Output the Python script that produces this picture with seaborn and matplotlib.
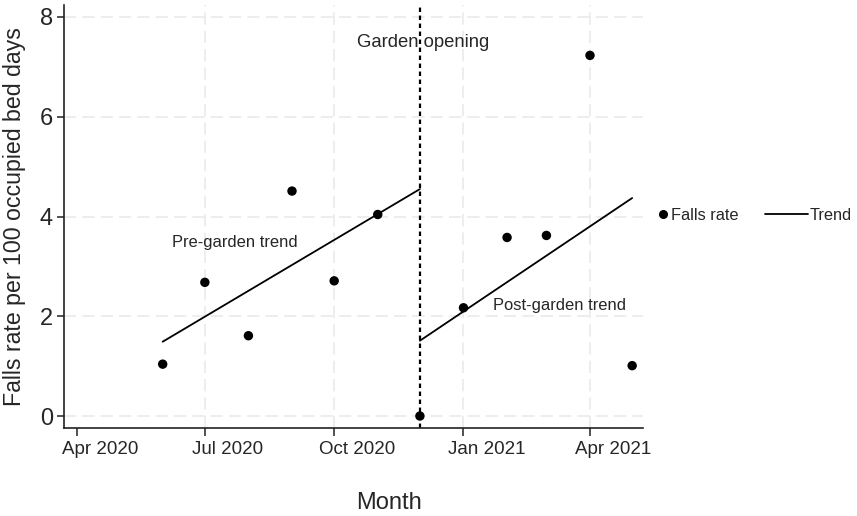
import seaborn as sns
import matplotlib.pyplot as plt
import matplotlib.dates as mdates
from matplotlib.lines import Line2D
from matplotlib.transforms import ScaledTranslation
import pandas as pd

# -------------------
# Data
# -------------------
months = ["2020-06-01", "2020-07-01", "2020-08-01", "2020-09-01", "2020-10-01", "2020-11-01",
          "2020-12-01", "2021-01-01", "2021-02-01", "2021-03-01", "2021-04-01", "2021-05-01"]
falls_rate = [1.04, 2.68, 1.61, 4.51, 2.71, 4.04, 0.00, 2.17, 3.58, 3.62, 7.23, 1.01]

pre_months = ["2020-06-01", "2020-12-01"]
pre_trend = [1.49, 4.55]
post_months = ["2020-12-01", "2021-05-01"]
post_trend = [1.51, 4.37]

garden_opening = "2020-12-01"
x_ticks = ["2020-04-01", "2020-07-01", "2020-10-01", "2021-01-01", "2021-04-01"]
y_ticks = [0, 2, 4, 6, 8]

df = pd.DataFrame({"Month": pd.to_datetime(months), "Rate": falls_rate})
pre_df = pd.DataFrame({"Month": pd.to_datetime(pre_months), "Trend": pre_trend})
post_df = pd.DataFrame({"Month": pd.to_datetime(post_months), "Trend": post_trend})

# -------------------
# Style
# -------------------
sns.set_style("white")
plt.rcParams["font.family"] = ["Liberation Sans", "DejaVu Sans"]

W, H = 857, 516
fig = plt.figure(figsize=(W / 100, H / 100), dpi=100)
ax = fig.add_axes([64 / W, 1 - 428 / H, 579 / W, 423 / H])

sns.lineplot(data=pre_df, x="Month", y="Trend", color="black", lw=1.3, ax=ax)
sns.lineplot(data=post_df, x="Month", y="Trend", color="black", lw=1.3, ax=ax)
sns.scatterplot(data=df, x="Month", y="Rate", color="black", s=46, edgecolor="none",
                ax=ax, zorder=3)
ax.axvline(pd.Timestamp(garden_opening), color="black", lw=1.6, ls=(0, (2, 1.6)), zorder=2)

# annotations
ax.text(pd.Timestamp("2020-12-03"), 7.39, "Garden opening", ha="center", va="baseline",
        fontsize=13.3)
ax.text(pd.Timestamp("2020-07-22"), 3.39, "Pre-garden trend", ha="center", va="baseline",
        fontsize=11.9)
ax.text(pd.Timestamp("2021-03-10"), 2.13, "Post-garden trend", ha="center", va="baseline",
        fontsize=11.9)

# axes
ax.set_xlim(pd.Timestamp("2020-03-22 19:00"), pd.Timestamp("2021-05-08 17:00"))
ax.set_ylim(-0.24, 8.24)
ax.set_xticks(pd.to_datetime(x_ticks))
ax.xaxis.set_major_formatter(mdates.DateFormatter("%b %Y"))
ax.set_yticks(y_ticks)

ax.grid(True, color="#e8e8e8", lw=1.1, ls=(0, (8, 4)), zorder=0)
ax.set_axisbelow(True)
ax.xaxis.get_gridlines()[0].set_visible(False)

for side in ["top", "right"]:
    ax.spines[side].set_visible(False)
for side in ["left", "bottom"]:
    ax.spines[side].set_color("#222222")
    ax.spines[side].set_linewidth(1.2)

ax.tick_params(axis="x", direction="out", length=6, width=1.1, color="#222222",
               pad=3, labelsize=13.5, bottom=True)
ax.tick_params(axis="y", direction="out", length=5, width=1.1, color="#222222",
               pad=3, labelsize=17, left=True)

# x tick labels sit a bit to the right of their ticks in the reference
for lbl in ax.get_xticklabels():
    lbl.set_transform(lbl.get_transform() + ScaledTranslation(0.23, 0, fig.dpi_scale_trans))

ax.set_xlabel("Month", fontsize=17)
ax.set_ylabel("Falls rate per 100 occupied bed days", fontsize=16.7)
ax.xaxis.set_label_coords((389 - 64) / 579, (428 - 503) / 423)
ax.yaxis.set_label_coords((15 - 64) / 579, 0.5)
ax.xaxis.label.set_va("center")
ax.yaxis.label.set_va("center")

# legend, outside on the right
dot = Line2D([], [], marker="o", ls="", color="black", ms=5.5)
line = Line2D([], [], color="black", lw=1.3)
fig.legend([dot], ["Falls rate"], loc="center left",
           bbox_to_anchor=(659.5 / W, 1 - 215 / H), frameon=False,
           handlelength=0.4, handletextpad=0.3, borderpad=0, borderaxespad=0,
           fontsize=11.8)
fig.legend([line], ["Trend"], loc="center left",
           bbox_to_anchor=(765 / W, 1 - 215 / H), frameon=False,
           handlelength=2.6, handletextpad=0.1, borderpad=0, borderaxespad=0,
           fontsize=11.8)

fig.savefig("out.png", dpi=100)
plt.close()
